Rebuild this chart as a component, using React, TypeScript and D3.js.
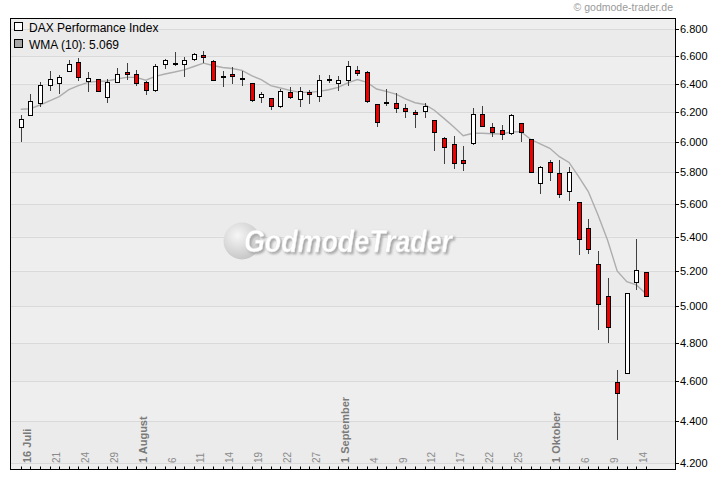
import React from "react";
import * as d3 from "d3";

const dates = [
  "2008-07-15","2008-07-16","2008-07-17","2008-07-18","2008-07-21","2008-07-22","2008-07-23","2008-07-24","2008-07-25","2008-07-28","2008-07-29","2008-07-30","2008-07-31",
  "2008-08-01","2008-08-04","2008-08-05","2008-08-06","2008-08-07","2008-08-08","2008-08-11","2008-08-12","2008-08-13","2008-08-14","2008-08-15","2008-08-18","2008-08-19","2008-08-20","2008-08-21","2008-08-22","2008-08-25","2008-08-26","2008-08-27","2008-08-28","2008-08-29",
  "2008-09-01","2008-09-02","2008-09-03","2008-09-04","2008-09-05","2008-09-08","2008-09-09","2008-09-10","2008-09-11","2008-09-12","2008-09-15","2008-09-16","2008-09-17","2008-09-18","2008-09-19","2008-09-22","2008-09-23","2008-09-24","2008-09-25","2008-09-26","2008-09-29","2008-09-30",
  "2008-10-01","2008-10-02","2008-10-03","2008-10-06","2008-10-07","2008-10-08","2008-10-09","2008-10-10","2008-10-13","2008-10-14",
];

const openValues = [
  6101,6178,6266,6391,6405,6492,6555,6416,6433,6305,
  6409,6486,6469,6409,6357,6540,6543,6540,6578,6604,
  6566,6458,6471,6443,6405,6305,6298,6245,6341,6291,
  6341,6316,6436,6402,6424,6498,6484,6255,6271,6262,
  6226,6202,6209,6146,6023,5984,5881,5990,6191,6097,
  6077,6061,6124,6016,5731,5866,5794,5684,5611,5452,
  5238,5057,4595,4642,5133,5191,
];
const highValues = [
  6178,6329,6409,6492,6459,6571,6583,6484,6435,6433,
  6509,6547,6499,6416,6540,6578,6627,6590,6620,6637,
  6571,6488,6516,6492,6405,6341,6298,6362,6374,6379,
  6357,6464,6464,6457,6564,6528,6491,6255,6362,6334,
  6257,6214,6266,6146,6034,6039,5973,6231,6245,6128,
  6114,6191,6124,6016,5842,5881,5881,5835,5611,5507,
  5318,5161,4659,5071,5387,5191,
];
const lowValues = [
  6001,6172,6238,6345,6326,6492,6416,6338,6345,6266,
  6405,6429,6381,6321,6341,6507,6523,6445,6564,6547,
  6424,6374,6398,6381,6274,6266,6219,6231,6291,6238,
  6255,6269,6405,6345,6381,6452,6266,6097,6245,6195,
  6162,6091,6162,5942,5855,5822,5809,5979,6108,6034,
  6012,6046,6001,5804,5661,5747,5636,5621,5293,5299,
  4870,4801,4308,4642,5091,5059,
];
const closeValues = [
  6155,6276,6393,6433,6450,6540,6445,6441,6350,6409,
  6469,6471,6405,6352,6528,6569,6546,6569,6612,6590,
  6429,6452,6452,6439,6286,6326,6243,6350,6305,6350,
  6326,6426,6425,6426,6528,6476,6281,6131,6267,6231,
  6209,6187,6243,6068,5968,5863,5863,6191,6108,6068,
  6054,6180,6068,5804,5833,5805,5661,5801,5389,5330,
  5014,4888,4543,5071,5205,5059,
];
const wmaValues = [
  6221,6224,6250,6279,6309,6357,6386,6409,6416,6419,
  6433,6445,6445,6424,6452,6469,6483,6499,6523,6547,
  6530,6516,6508,6495,6457,6429,6386,6369,6352,6338,
  6338,6345,6357,6374,6405,6429,6409,6362,6345,6326,
  6293,6266,6254,6214,6158,6101,6041,6057,6057,6054,
  6052,6066,6068,6017,5986,5957,5902,5864,5773,5678,
  5533,5381,5199,5138,5119,5069,
];

const xLabelDates = [
  "2008-07-16","2008-07-21","2008-07-24","2008-07-29","2008-08-01","2008-08-06","2008-08-11","2008-08-14","2008-08-19","2008-08-22","2008-08-27",
  "2008-09-01","2008-09-04","2008-09-09","2008-09-12","2008-09-17","2008-09-22","2008-09-25","2008-10-01","2008-10-06","2008-10-09","2008-10-14",
];
const xLabelTexts = [
  "16 Juli","21","24","29","1 August","6","11","14","19","22","27",
  "1 September","4","9","12","17","22","25","1 Oktober","6","9","14",
];
const yTickValues = [4200,4400,4600,4800,5000,5200,5400,5600,5800,6000,6200,6400,6600,6800];

const seriesName = "DAX Performance Index";
const wmaLabel = "WMA (10): 5.069";
const credit = "\u00A9 godmode-trader.de";
const watermark = "GodmodeTrader";

const W = 720, H = 481;
const L = 10, R = 675, T = 18, B = 469;
const FONT = "'Liberation Sans', Arial, Helvetica, sans-serif";

export default function App() {
  const x = d3.scalePoint<string>().domain(dates).range([20.7, 646]);
  const y = d3.scaleLog().domain([4200, 6800]).range([463.3, 29]);
  const fmt = (v: number) => d3.format(",")(v).replace(",", ".");
  const px = (v: number) => Math.round(v) + 0.5;

  const bandEdges = [T, ...yTickValues.slice().reverse().map((v) => y(v)), B];
  const bands = [];
  for (let k = 0; k < bandEdges.length - 1; k++) {
    bands.push({ y0: bandEdges[k], y1: bandEdges[k + 1], fill: k % 2 === 0 ? "#eeeeee" : "#ebebeb" });
  }

  const line = d3
    .line<number>()
    .x((_, i) => x(dates[i]) as number)
    .y((v) => y(v))
    .curve(d3.curveLinear);

  return (
    <svg width={W} height={H} style={{ position: "absolute", left: 0, top: 0, background: "#fff" }} fontFamily={FONT}>
      <defs>
        <radialGradient id="logoGrad" cx="0.38" cy="0.35" r="0.7">
          <stop offset="0" stopColor="#f6f6f6" />
          <stop offset="0.6" stopColor="#d8d8d8" />
          <stop offset="1" stopColor="#c4c4c4" />
        </radialGradient>
        <filter id="wmShadow" x="-10%" y="-30%" width="120%" height="160%">
          <feDropShadow dx={2} dy={2} stdDeviation={0.8} floodColor="#a8a8a8" floodOpacity={1} />
        </filter>
        <clipPath id="plotClip">
          <rect x={L} y={T} width={R - L} height={B - T} />
        </clipPath>
      </defs>
      <rect x={0} y={0} width={W} height={H} fill="#ffffff" />
      {/* plot background bands */}
      {bands.map((b, k) => (
        <rect key={k} x={L} y={b.y0} width={R - L} height={b.y1 - b.y0} fill={b.fill} />
      ))}
      {/* gridlines */}
      {yTickValues.map((v) => (
        <line key={v} x1={L} x2={R} y1={px(y(v))} y2={px(y(v))} stroke="#d9d9d9" strokeWidth={1} />
      ))}
      {/* watermark */}
      <g>
        <circle cx={242} cy={241} r={18.5} fill="url(#logoGrad)" />
        <text x={244} y={252} fontSize={31} fontWeight="bold" fontStyle="italic"
          fontFamily="'Liberation Sans Narrow', 'Liberation Sans', Arial, sans-serif"
          textLength={208} lengthAdjust="spacingAndGlyphs" fill="#ffffff" stroke="#e2e2e2" strokeWidth={0.4}
          filter="url(#wmShadow)">{watermark}</text>
      </g>
      {/* WMA line */}
      <path d={line(wmaValues) || ""} fill="none" stroke="#adadad" strokeWidth={1.4} clipPath="url(#plotClip)" />
      {/* candles */}
      <g clipPath="url(#plotClip)">
        {dates.map((d, i) => {
          const cx = px(x(d) as number);
          const o = openValues[i], c = closeValues[i], h = highValues[i], l = lowValues[i];
          const up = c >= o;
          const yTop = Math.round(y(Math.max(o, c)));
          const yBot = Math.round(y(Math.min(o, c)));
          const bh = Math.max(1, yBot - yTop);
          return (
            <g key={d}>
              <line x1={cx} x2={cx} y1={Math.round(y(h))} y2={Math.round(y(l))} stroke="#404040" strokeWidth={1} />
              <rect x={cx - 2} y={yTop + 0.5} width={4} height={bh} fill={up ? "#ffffff" : "#ee0000"} stroke="#000" strokeWidth={1} />
            </g>
          );
        })}
      </g>
      {/* frame */}
      <rect x={L + 0.5} y={T + 0.5} width={R - L} height={B - T} fill="none" stroke="#000" strokeWidth={1} />
      {/* right axis ticks + labels */}
      {yTickValues.map((v) => (
        <g key={v}>
          <line x1={R} x2={R + 4} y1={px(y(v))} y2={px(y(v))} stroke="#000" strokeWidth={1} />
          <text x={R + 5} y={y(v) + 4} fontSize={11} fill="#000">{fmt(v)}</text>
        </g>
      ))}
      {/* bottom ticks */}
      {dates.map((d) => (
        <line key={d} x1={px(x(d) as number)} x2={px(x(d) as number)} y1={B - 2.5} y2={B + 0.5} stroke="#000" strokeWidth={1} />
      ))}
      {/* x labels */}
      {xLabelDates.map((d, k) => {
        const bold = xLabelTexts[k].includes(" ");
        return (
          <text key={d + k} transform={`translate(${(x(d) as number) + 1},${463}) rotate(-90)`}
            fontSize={bold ? 11 : 10} fontWeight={bold ? "bold" : "normal"} fill={bold ? "#7a7a7a" : "#8a8a8a"}>
            {xLabelTexts[k]}
          </text>
        );
      })}
      {/* legend */}
      <rect x={14.5} y={22.5} width={8} height={8} fill="#ffffff" stroke="#000" strokeWidth={1} />
      <text x={29} y={31.5} fontSize={12} fill="#000">{seriesName}</text>
      <rect x={14.5} y={39.5} width={8} height={8} fill="#a6a6a6" stroke="#000" strokeWidth={1} />
      <text x={29} y={48.5} fontSize={12} fill="#000">{wmaLabel}</text>
      {/* credit */}
      <text x={673} y={11} fontSize={10.5} fill="#9a9a9a" textAnchor="end">{credit}</text>
    </svg>
  );
}
